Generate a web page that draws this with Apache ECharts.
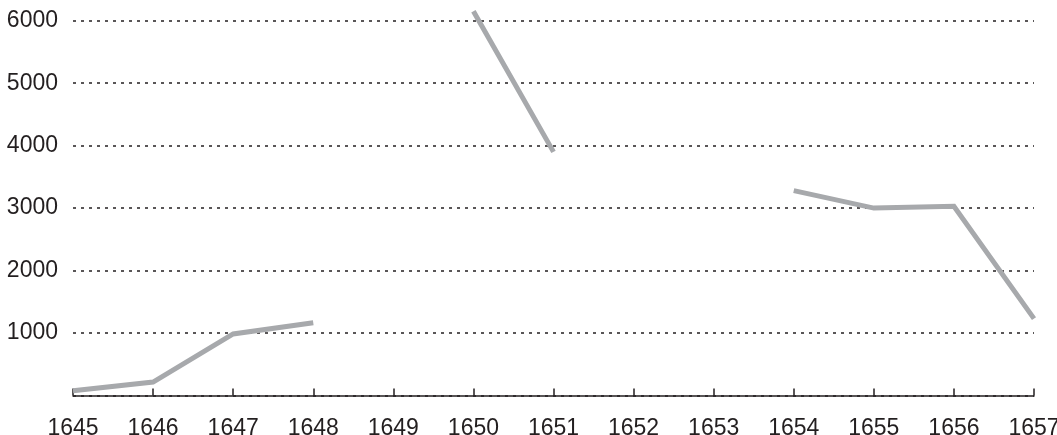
<!DOCTYPE html>
<html>
<head>
<meta charset="utf-8">
<script src="https://cdn.jsdelivr.net/npm/echarts@6/dist/echarts.min.js"></script>
<style>
  html, body { margin: 0; padding: 0; background: #fff; overflow: hidden; }
  #chart { width: 1057px; height: 435px; }
</style>
</head>
<body>
<div id="chart"></div>
<script>
// years on the x axis
const years = ['1645', '1646', '1647', '1648', '1649', '1650', '1651',
  '1652', '1653', '1654', '1655', '1656', '1657'];
// values, null where the line breaks
const values = [75, 215, 985, 1165, null, 6150, 3900, null, null, 3280, 3000, 3030, 1230];
// y tick labels
const yTicks = [1000, 2000, 3000, 4000, 5000, 6000];

const labelFont = "'Liberation Sans Narrow', 'Arial Narrow', 'Liberation Sans', Arial, sans-serif";

const chart = echarts.init(document.getElementById('chart'));
chart.setOption({
  animation: false,
  grid: { left: 73, right: 23, top: 20.7, bottom: 39.5, outerBoundsMode: 'none', containLabel: false },
  xAxis: {
    type: 'category',
    data: years,
    boundaryGap: false,
    axisLine: { lineStyle: { color: '#231f20', width: 1.5 } },
    axisTick: { inside: true, length: 7, lineStyle: { color: '#231f20', width: 1.5 } },
    axisLabel: { color: '#231f20', fontSize: 23, fontFamily: labelFont, margin: 22 },
    splitLine: { show: false }
  },
  yAxis: {
    type: 'value',
    min: 0,
    max: 6000,
    interval: 1000,
    axisLine: { show: false },
    axisTick: { show: false },
    axisLabel: {
      color: '#231f20', fontSize: 23, fontFamily: labelFont, margin: 15,
      padding: [9, 0, 0, 0],
      formatter: v => (yTicks.includes(v) ? String(v) : '')
    },
    splitLine: { lineStyle: { color: '#231f20', type: [3, 5], width: 1.5 } }
  },
  series: [{
    type: 'line',
    data: values,
    connectNulls: false,
    showSymbol: false,
    symbol: 'none',
    clip: false,
    lineStyle: { color: '#a7a9ac', width: 5, cap: 'butt', join: 'miter' }
  }]
});
</script>
</body>
</html>
